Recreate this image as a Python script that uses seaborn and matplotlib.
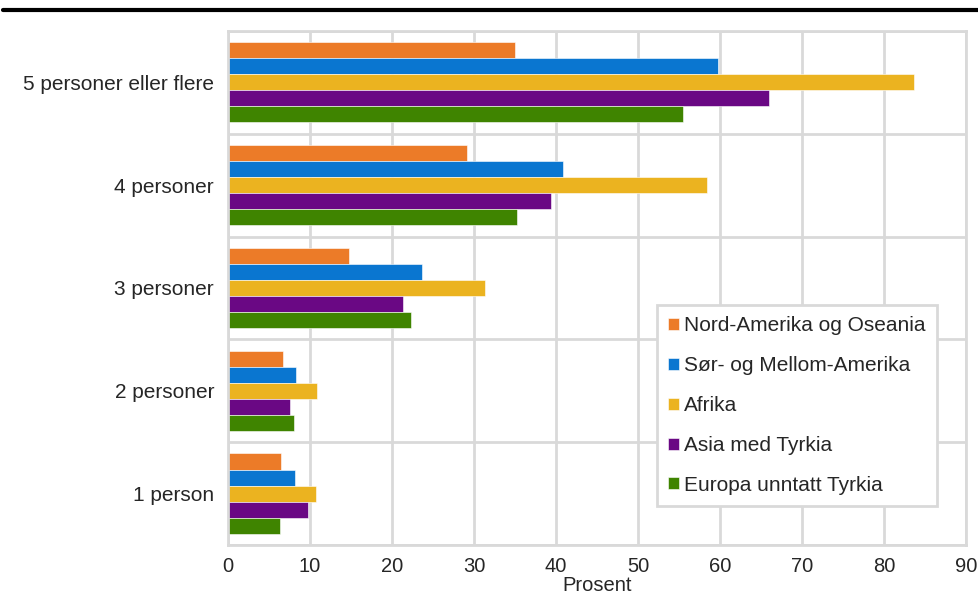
import pandas as pd
import seaborn as sns
import matplotlib.pyplot as plt
from matplotlib.lines import Line2D

categories = ["5 personer eller flere", "4 personer", "3 personer", "2 personer", "1 person"]
regions = ["Nord-Amerika og Oseania", "Sør- og Mellom-Amerika", "Afrika",
           "Asia med Tyrkia", "Europa unntatt Tyrkia"]

nord_amerika = [35.0, 29.1, 14.8, 6.7, 6.5]
sor_amerika = [59.7, 40.9, 23.7, 8.3, 8.2]
afrika = [83.6, 58.4, 31.3, 10.8, 10.7]
asia = [66.0, 39.4, 21.4, 7.6, 9.8]
europa = [55.5, 35.2, 22.3, 8.0, 6.4]

colors = ["#ec7b28", "#0a76d0", "#ebb320", "#6a0884", "#3f8400"]

rows = []
for region, vals in zip(regions, [nord_amerika, sor_amerika, afrika, asia, europa]):
    for cat, v in zip(categories, vals):
        rows.append({"kategori": cat, "region": region, "prosent": v})
data = pd.DataFrame(rows)

sns.set_style("white")
plt.rcParams["font.family"] = ["Liberation Sans", "DejaVu Sans"]

fig = plt.figure(figsize=(9.79, 6.01), dpi=100)
ax = fig.add_axes([0.2329, 0.0932, 0.7538, 0.8552])

sns.barplot(data=data, y="kategori", x="prosent", hue="region", order=categories,
            hue_order=regions, palette=colors, width=0.78, orient="h",
            edgecolor="white", linewidth=0.4, saturation=1, ax=ax)

grid_color = "#d9d9d9"
ax.set_xlim(0, 90)
ax.set_xticks(range(0, 91, 10))
ax.set_ylim(len(categories) - 0.5, -0.5)
ax.set_yticks([i + 0.5 for i in range(-1, len(categories))], minor=True)
ax.grid(True, axis="x", color=grid_color, linewidth=2)
ax.grid(True, axis="y", which="minor", color=grid_color, linewidth=2)
ax.set_axisbelow(True)
for s in ax.spines.values():
    s.set_color(grid_color)
    s.set_linewidth(2)

ax.tick_params(axis="both", which="both", length=0, labelsize=15)
ax.tick_params(axis="x", pad=9, labelsize=14.5)
ax.tick_params(axis="y", pad=10)
ax.set_ylabel("")
ax.set_xlabel("Prosent", fontsize=14.5, labelpad=0)

leg = ax.legend(loc="upper left", bbox_to_anchor=(657 / 979, 1 - 305 / 601),
                bbox_transform=fig.transFigure, frameon=True, fancybox=False,
                fontsize=15, handlelength=0.5, handleheight=0.5,
                handletextpad=0.25, labelspacing=1.0, borderpad=0.55,
                borderaxespad=0, title=None)
leg.get_frame().set_edgecolor(grid_color)
leg.get_frame().set_linewidth(2)
leg.get_frame().set_alpha(1)

fig.add_artist(Line2D([0.003, 1.0], [1 - 9.5 / 601, 1 - 9.5 / 601],
                      color="black", linewidth=3, transform=fig.transFigure))

plt.savefig("out.png", dpi=100)
